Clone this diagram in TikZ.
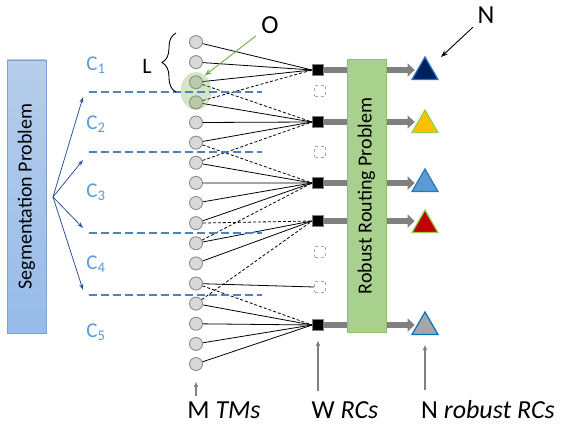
\documentclass[tikz,border=0pt]{standalone}
\usepackage{fontspec}
\setmainfont{Carlito}
\usetikzlibrary{shapes.geometric, arrows.meta, decorations.pathreplacing}
\definecolor{segblue}{RGB}{183,205,235}
\definecolor{segbluedark}{RGB}{150,188,232}
\definecolor{segborder}{RGB}{124,161,209}
\definecolor{cutblue}{RGB}{79,129,189}
\definecolor{labelblue}{RGB}{91,155,213}
\definecolor{arrowblue}{RGB}{47,85,151}
\definecolor{routegreen}{RGB}{169,209,142}
\definecolor{routeborder}{RGB}{140,190,110}
\definecolor{ogreen}{RGB}{112,173,71}
\definecolor{tmgray}{RGB}{217,217,217}
\definecolor{tmborder}{RGB}{140,140,140}
\definecolor{rcnavy}{RGB}{0,32,96}
\definecolor{rcedgeblue}{RGB}{46,117,182}
\definecolor{rcgold}{RGB}{255,192,0}
\definecolor{rclightgreen}{RGB}{146,208,80}
\definecolor{rcred}{RGB}{192,0,0}
\definecolor{rcblue}{RGB}{91,155,213}
\definecolor{rcgray}{RGB}{166,166,166}
\definecolor{rcstrongblue}{RGB}{0,112,192}

\begin{document}
\begin{tikzpicture}[x=1pt, y=-1pt, font=\fontsize{20}{24}\selectfont]
  \tikzset{
    tm_circle/.style={
      circle, draw=tmborder, fill=tmgray, line width=0.9pt, minimum size=13pt, inner sep=0pt
    },
    rc_square/.style={
      rectangle, draw=gray, fill=black, line width=0.8pt, minimum size=11pt, inner sep=0pt
    },
    unused_square/.style={
      rectangle, draw=gray!70, fill=white, dashed, line width=0.9pt, minimum size=11pt, inner sep=0pt
    },
    robust_tri/.style args={#1/#2}{
      regular polygon, regular polygon sides=3, fill=#1, draw=#2, line width=1.2pt, minimum size=30pt, inner sep=0pt
    },
    problem_box/.style args={#1/#2/#3}{
      rectangle, top color=#1, bottom color=#2, draw=#3, minimum width=39pt, minimum height=273pt, inner sep=0pt
    },
    o_zone/.style={
      ellipse, draw=ogreen, densely dotted, fill=ogreen, fill opacity=0.3, minimum width=30pt, minimum height=37pt
    },
    link/.style={black, line width=0.8pt},
    alt_link/.style={black, line width=0.8pt, dash pattern=on 3pt off 2pt},
    cut_line/.style={cutblue, line width=1.8pt, dash pattern=on 8pt off 4pt},
    seg_arrow/.style={-{Stealth[length=6pt, width=4pt]}, arrowblue, line width=0.8pt},
    rc_arrow/.style={-{Triangle[length=7pt, width=13pt]}, draw=gray, line width=6pt},
    up_arrow/.style={-{Triangle[length=5pt, width=4pt]}, draw=gray, line width=1.2pt},
    pointer/.style={-{Stealth[length=7pt]}, line width=0.9pt},
    seg_label/.style={labelblue, font=\fontsize{21}{24}\selectfont},
    big_label/.style={font=\fontsize{26}{30}\selectfont}
  }

  \useasboundingbox (0,0) rectangle (563,430);

  % traffic matrices
  \foreach \i in {1,...,17} {
    \node[tm_circle] (tm\i) at (196, {21.9+20.125*\i}) {};
  }

  % representative configurations (used and unused)
  \foreach \y [count=\i] in {70,122,183,221,325} {
    \node[rc_square] (rc\i) at (318,\y) {};
  }
  \foreach \y [count=\i] in {91,152,252,287} {
    \node[unused_square] (ds\i) at (320,\y) {};
  }

  % assignment of TMs to RCs
  \foreach \c/\s in {1/1,2/1,3/1,4/2,5/2,6/2,7/3,8/3,9/3,10/3,11/4,12/4,14/5,15/5,16/5,17/5} {
    \draw[link] (tm\c) -- (rc\s.west);
  }
  \foreach \c/\s in {4/1,3/2,7/2,6/3,11/3,10/4,14/4,13/5} {
    \draw[alt_link] (tm\c) -- (rc\s.west);
  }
  \draw[link] (tm13) -- (ds4.west);

  \node[o_zone] (ozone) at (196,91) {};

  % segment borders
  \foreach \y [count=\i] in {92,152,233,295} {
    \coordinate (cutl\i) at (89,\y);
    \coordinate (cutr\i) at (262,\y);
    \draw[cut_line] (cutl\i) -- (cutr\i);
  }

  \coordinate (hub) at (53,197);
  \foreach \y [count=\i] in {97,160,228,290} {
    \coordinate (segend\i) at (83,\y);
    \draw[seg_arrow] (hub) -- (segend\i);
  }

  \foreach \y [count=\i] in {65,124,192,264,332} {
    \node[seg_label] (c\i) at (96,\y) {C\textsubscript{\i}};
  }

  \node[problem_box=segblue/segbluedark/segborder] (seg) at (26.5,196.5) {\rotatebox{90}{Segmentation Problem}};

  % robust RCs
  \foreach \col/\edge/\y [count=\i] in {rcnavy/rcedgeblue/72, rcgold/rclightgreen/125, rcblue/rcedgeblue/184, rcred/rclightgreen/225, rcgray/rcstrongblue/327} {
    \node[robust_tri=\col/\edge] (n\i) at (425,\y) {};
  }
  \foreach \i in {1,...,5} {
    \draw[rc_arrow, shorten >=1pt] (rc\i.east) -- (rc\i.east -| n\i.west);
  }

  \node[problem_box=routegreen/routegreen/routeborder] (route) at (366.5,196) {\rotatebox{90}{Robust Routing Problem}};

  % labels and pointers
  \node[big_label] (lbl_o) at (270,25) {O};
  \node[big_label] (lbl_n) at (486,15) {N};
  \node[font=\fontsize{22}{26}\selectfont] (lbl_l) at (147,66) {L};
  \draw[pointer, ogreen, shorten <=18pt, shorten >=11pt] (lbl_o.center) -- (tm3.center);
  \draw[pointer, shorten <=18pt, shorten >=22pt] (lbl_n.center) -- (n1.center);

  \coordinate (brace_top) at (176,33);
  \coordinate (brace_bot) at (176,92);
  \draw[decorate, decoration={brace, amplitude=14pt}, line width=0.9pt] (brace_bot) -- (brace_top);

  \node[big_label] (lbl_m) at (224,410) {M \textit{TMs}};
  \node[big_label] (lbl_w) at (345,410) {W \textit{RCs}};
  \node[big_label] (lbl_r) at (488,410) {N \textit{robust RCs}};
  \draw[up_arrow, shorten <=2pt, shorten >=11pt] (lbl_m.north -| tm17) -- (tm17.south);
  \draw[up_arrow, shorten <=7pt, shorten >=10pt] (lbl_w.north -| rc5) -- (rc5.south);
  \draw[up_arrow, shorten <=7pt, shorten >=10pt] (lbl_r.north -| n5) -- (n5.south);

\end{tikzpicture}
\end{document}
